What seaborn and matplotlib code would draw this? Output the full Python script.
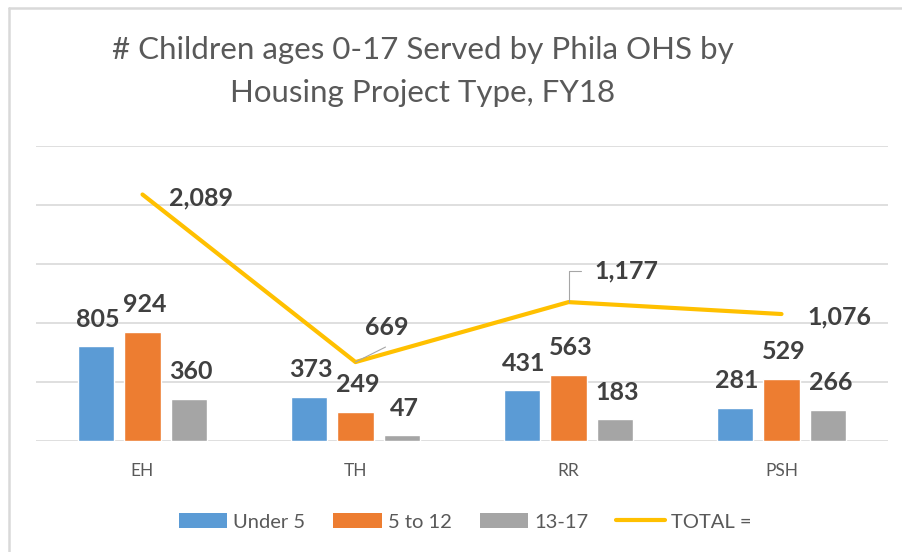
import numpy as np
import pandas as pd
import matplotlib
matplotlib.use("Agg")
import matplotlib.pyplot as plt
import seaborn as sns
from matplotlib.patches import Patch
from matplotlib.lines import Line2D

# Chart data
project_types = ["EH", "TH", "RR", "PSH"]
age_groups = ["Under 5", "5 to 12", "13-17"]
under_5 = [805, 373, 431, 281]
age_5_to_12 = [924, 249, 563, 529]
age_13_to_17 = [360, 47, 183, 266]
totals = [2089, 669, 1177, 1076]
total_label = "TOTAL ="

colors = ["#5B9BD5", "#ED7D31", "#A5A5A5"]
line_color = "#FFC000"
text_dark = "#404040"
text_gray = "#595959"

df = pd.DataFrame({
    "type": project_types * 3,
    "age": np.repeat(age_groups, len(project_types)),
    "count": under_5 + age_5_to_12 + age_13_to_17,
})

sns.set_style("white")
plt.rcParams["font.family"] = ["Lato", "DejaVu Sans"]

W, H = 902, 552
fig = plt.figure(figsize=(W / 100, H / 100), dpi=100)
ax = fig.add_axes([36 / W, (H - 441) / H, (888 - 36) / W, (441 - 146) / H])

sns.barplot(data=df, x="type", y="count", hue="age", palette=colors,
            width=0.66, gap=0.23, saturation=1, legend=False, ax=ax)
sns.lineplot(x=np.arange(len(project_types)), y=totals, color=line_color,
             linewidth=3, ax=ax)

ax.set_xlim(-0.5, len(project_types) - 0.5)
ax.set_ylim(0, 2500)
ax.set_yticks(np.arange(0, 2501, 500))
ax.yaxis.grid(True, color="#D9D9D9", linewidth=1.2)
ax.set_axisbelow(True)
ax.tick_params(axis="y", left=False, labelleft=False)
ax.tick_params(axis="x", bottom=False, pad=12, labelsize=12.5, labelcolor=text_gray)
ax.set_xlabel("")
ax.set_ylabel("")
for side in ["top", "right", "left", "bottom"]:
    ax.spines[side].set_visible(False)

# bar value labels
for container, values in zip(ax.containers, [under_5, age_5_to_12, age_13_to_17]):
    for bar, val in zip(container, values):
        ax.annotate(f"{val:,}", (bar.get_x() + bar.get_width() / 2, bar.get_height()),
                    xytext=(2, 27), textcoords="offset pixels", ha="center", va="center",
                    fontsize=18, fontweight="bold", color=text_dark)

# total labels (offsets in pixels)
label_offsets = [(27, -3), (10, 35), (26, 31), (26, -3)]
for i, (val, off) in enumerate(zip(totals, label_offsets)):
    ax.annotate(f"{val:,}", (i, val), xytext=off, textcoords="offset pixels",
                ha="left", va="center", fontsize=18, fontweight="bold", color=text_dark)

# leader lines
ax.annotate("", (1, totals[1]), xytext=(30, 15), textcoords="offset pixels",
            arrowprops=dict(arrowstyle="-", color="#A6A6A6", lw=0.8, shrinkA=0, shrinkB=0))
ax.annotate("", (2, totals[2]), xytext=(12, 31), textcoords="offset pixels",
            arrowprops=dict(arrowstyle="-", color="#A6A6A6", lw=0.8, shrinkA=0, shrinkB=0,
                            connectionstyle="angle,angleA=0,angleB=90,rad=0"))

# title
fig.text(423 / W, 1 - 50 / H, "# Children ages 0-17 Served by Phila OHS by",
         ha="center", va="center", fontsize=22.5, color=text_gray)
fig.text(423 / W, 1 - 93 / H, "Housing Project Type, FY18",
         ha="center", va="center", fontsize=22.5, color=text_gray)

# legend
handles = [Patch(facecolor=c, edgecolor="none") for c in colors]
handles.append(Line2D([0], [0], color=line_color, linewidth=3))
fig.legend(handles, age_groups + [total_label], loc="center", ncol=4,
           bbox_to_anchor=(465 / W, 1 - 522 / H), frameon=False, fontsize=14.5,
           labelcolor=text_gray, handlelength=2.4, handleheight=0.75,
           handletextpad=0.3, columnspacing=1.4)

# outer chart border
fig.add_artist(plt.Line2D([9 / W, 1], [1 - 8 / H, 1 - 8 / H], color="#D9D9D9", lw=1.8,
                          transform=fig.transFigure))
fig.add_artist(plt.Line2D([9 / W, 9 / W], [0, 1 - 8 / H], color="#D9D9D9", lw=1.8,
                          transform=fig.transFigure))

fig.savefig("out.png", dpi=100, facecolor="white")
